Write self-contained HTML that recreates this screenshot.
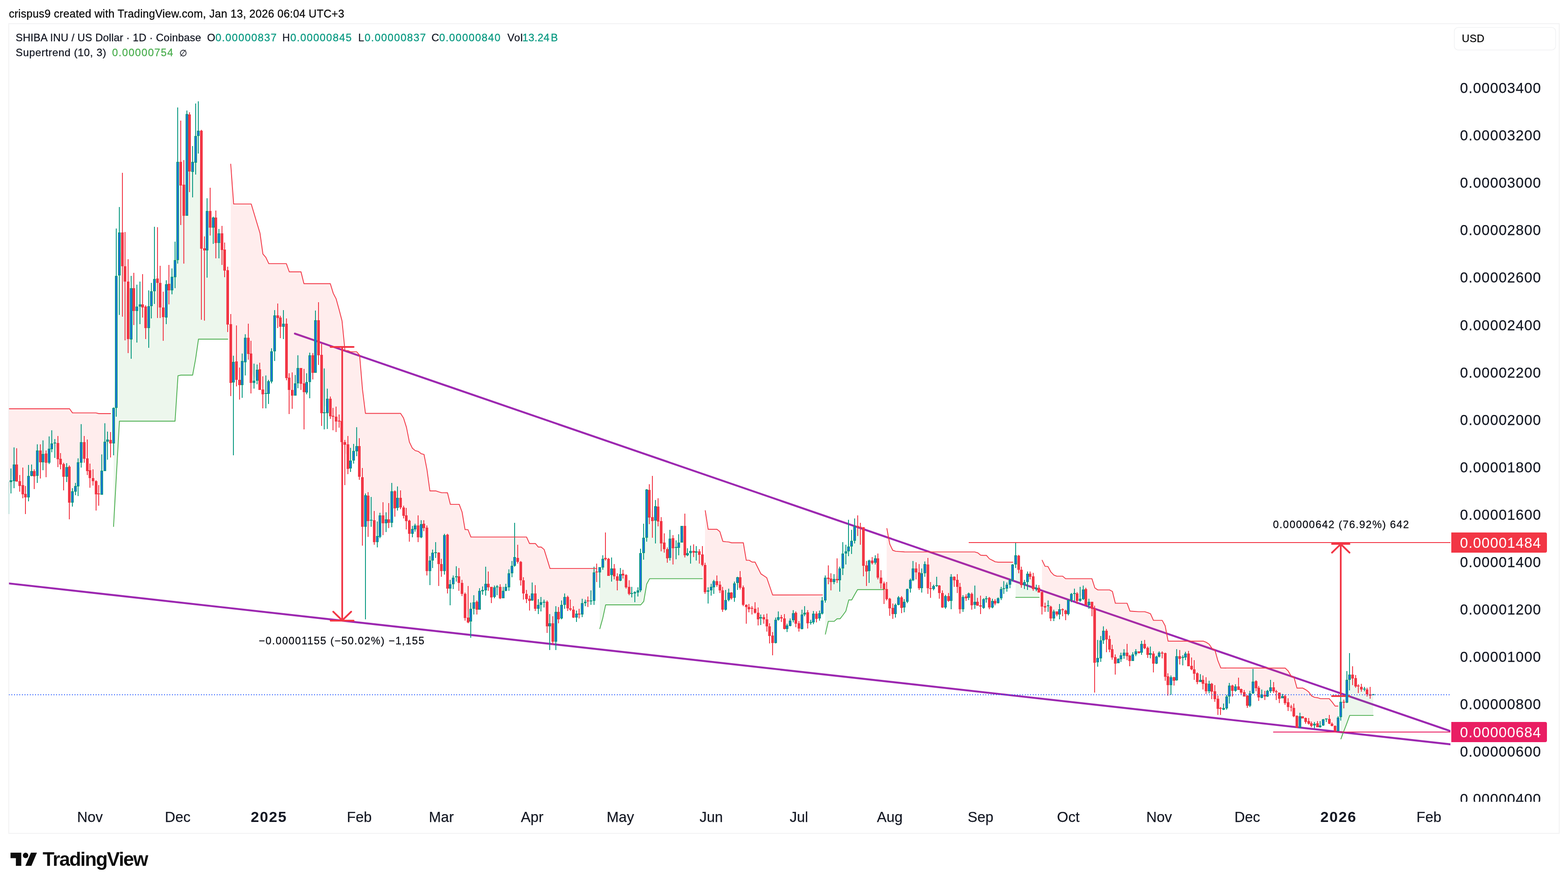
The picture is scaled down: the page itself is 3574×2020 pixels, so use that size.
<!DOCTYPE html>
<html lang="en"><head><meta charset="utf-8"><title>SHIBA INU / US Dollar - TradingView snapshot</title>
<style>
html,body{margin:0;padding:0;background:#fff;}
body{width:3574px;height:2020px;overflow:hidden;position:relative;font-family:"Liberation Sans",Arial,sans-serif;}
svg{position:absolute;left:0;top:0;display:block}
text{font-family:"Liberation Sans",Arial,sans-serif;white-space:pre}
</style></head><body>
<svg width="3574" height="2020" viewBox="0 0 3574 2020">
<defs><clipPath id="pane"><rect x="20.5" y="55" width="3285.5" height="1773"/></clipPath>
<clipPath id="axis"><rect x="3306" y="55" width="247" height="1773"/></clipPath></defs>
<rect x="0" y="0" width="3574" height="2020" fill="#fff"/>
<rect x="20" y="54" width="3534" height="1846" fill="#fff" stroke="#f2f2f3" stroke-width="2"/>

<g id="header"><text x="20.2" y="40" font-size="25" fill="#0a0a0a" stroke="#0a0a0a" stroke-width="0.35" letter-spacing="0.29">crispus9 created with TradingView.com, Jan 13, 2026 06:04 UTC+3</text></g>
<g id="chart-pane" clip-path="url(#pane)">
<g id="trend" stroke="#9c27b0" stroke-width="4.4" stroke-linecap="round" fill="none"><line x1="672.1" y1="760.6" x2="3330" y2="1675.1"/><line x1="0" y1="1327.9" x2="3330" y2="1699.7"/></g>
<g id="st-fill"><polygon fill="rgba(255,82,82,0.1)" points="12.0,931.6 18.0,931.6 25.0,931.6 32.0,931.6 38.0,931.6 45.0,931.6 52.0,931.6 58.0,931.6 65.0,931.6 72.0,931.6 78.0,931.6 85.0,931.6 92.0,931.6 98.0,931.6 105.0,931.6 112.0,931.6 118.0,931.6 125.0,931.6 132.0,931.6 138.0,931.6 145.0,931.6 152.0,931.6 158.0,931.6 165.0,941.0 172.0,941.0 178.0,941.0 185.0,941.0 192.0,941.0 199.0,941.0 205.0,941.0 212.0,941.0 219.0,941.0 225.0,942.6 232.0,942.6 239.0,942.6 245.0,942.6 252.0,942.6 252.0,1010.5 245.0,1010.3 239.0,1030.0 232.0,1091.2 225.0,1127.9 219.0,1120.7 212.0,1091.1 205.0,1082.7 199.0,1050.9 192.0,1025.7 185.0,1023.9 178.0,1084.7 172.0,1114.8 165.0,1133.4 158.0,1113.8 152.0,1076.7 145.0,1079.4 138.0,1051.9 132.0,1028.9 125.0,1016.3 118.0,1011.6 112.0,1032.7 105.0,1051.0 98.0,1041.4 92.0,1046.3 85.0,1056.6 78.0,1086.1 72.0,1076.2 65.0,1105.4 58.0,1134.9 52.0,1108.6 45.0,1102.3 38.0,1069.4 32.0,1072.3 25.0,1096.7 18.0,1135.3 12.0,931.6"/>
<polygon fill="rgba(76,175,80,0.1)" points="259.0,1200.0 265.0,1079.9 272.0,959.9 279.0,959.9 285.0,959.9 292.0,959.9 299.0,959.9 305.0,959.9 312.0,959.9 319.0,959.9 325.0,959.9 332.0,959.9 339.0,959.9 345.0,959.9 352.0,959.9 359.0,959.9 365.0,959.9 372.0,959.9 379.0,959.9 385.0,959.9 392.0,959.9 399.0,959.9 405.0,856.2 412.0,854.8 419.0,854.8 426.0,854.8 432.0,854.8 439.0,854.8 446.0,818.2 452.0,772.9 459.0,772.9 466.0,772.9 472.0,772.9 479.0,772.9 486.0,772.9 492.0,772.9 499.0,772.9 506.0,772.9 512.0,772.9 519.0,772.9 519.0,680.3 512.0,592.8 506.0,555.2 499.0,549.3 492.0,529.6 486.0,516.0 479.0,491.1 472.0,534.2 466.0,601.6 459.0,472.2 452.0,297.2 446.0,328.8 439.0,385.9 432.0,336.5 426.0,373.9 419.0,469.7 412.0,394.9 405.0,452.0 399.0,608.3 392.0,643.9 385.0,651.8 379.0,687.3 372.0,716.5 365.0,669.1 359.0,630.8 352.0,627.6 345.0,683.1 339.0,725.2 332.0,728.8 325.0,685.8 319.0,693.2 312.0,709.3 305.0,682.3 299.0,719.4 292.0,702.8 285.0,638.5 279.0,563.4 272.0,587.1 265.0,757.5 259.0,977.1"/>
<polygon fill="rgba(255,82,82,0.1)" points="526.0,373.7 532.0,464.7 539.0,464.7 546.0,464.7 552.0,464.7 559.0,464.7 566.0,464.7 572.0,464.7 579.0,486.8 586.0,509.0 592.0,531.2 599.0,578.7 606.0,586.4 612.0,600.7 619.0,600.7 626.0,600.7 633.0,600.7 639.0,600.7 646.0,600.7 653.0,600.7 659.0,619.3 666.0,619.3 673.0,619.3 679.0,619.3 686.0,619.3 693.0,646.3 699.0,646.3 706.0,646.3 713.0,646.3 719.0,646.3 726.0,646.3 733.0,646.3 739.0,646.3 746.0,646.3 753.0,646.3 759.0,668.2 766.0,681.0 773.0,705.3 779.0,731.0 786.0,798.7 793.0,799.0 799.0,801.7 806.0,801.7 813.0,801.7 819.0,809.5 826.0,888.0 833.0,942.1 839.0,942.1 846.0,942.1 853.0,942.1 860.0,942.1 866.0,942.1 873.0,942.1 880.0,942.1 886.0,942.1 893.0,942.1 900.0,942.1 906.0,942.1 913.0,942.1 920.0,952.6 926.0,974.0 933.0,1007.5 940.0,1021.3 946.0,1027.0 953.0,1028.7 960.0,1033.9 966.0,1035.8 973.0,1070.2 980.0,1118.8 986.0,1118.8 993.0,1118.8 1000.0,1121.0 1006.0,1123.0 1013.0,1123.0 1020.0,1123.1 1026.0,1149.5 1033.0,1149.5 1040.0,1149.5 1046.0,1149.5 1053.0,1167.1 1060.0,1206.9 1067.0,1207.2 1073.0,1224.0 1080.0,1224.0 1087.0,1224.0 1093.0,1224.0 1100.0,1224.0 1107.0,1224.0 1113.0,1224.0 1120.0,1224.0 1127.0,1224.0 1133.0,1224.0 1140.0,1224.0 1147.0,1224.0 1153.0,1224.0 1160.0,1224.0 1167.0,1224.0 1173.0,1224.0 1180.0,1224.0 1187.0,1224.0 1193.0,1224.0 1200.0,1224.0 1207.0,1238.8 1213.0,1238.8 1220.0,1238.8 1227.0,1246.8 1233.0,1246.8 1240.0,1252.5 1247.0,1274.0 1253.0,1295.7 1260.0,1295.7 1267.0,1295.7 1273.0,1295.7 1280.0,1295.7 1287.0,1295.7 1294.0,1295.7 1300.0,1295.7 1307.0,1295.7 1314.0,1295.7 1320.0,1295.7 1327.0,1295.7 1334.0,1295.7 1340.0,1295.7 1347.0,1295.7 1354.0,1295.7 1360.0,1295.7 1360.0,1305.1 1354.0,1336.7 1347.0,1366.1 1340.0,1371.1 1334.0,1373.9 1327.0,1387.1 1320.0,1399.6 1314.0,1404.3 1307.0,1397.3 1300.0,1384.3 1294.0,1374.8 1287.0,1370.2 1280.0,1392.7 1273.0,1402.8 1267.0,1430.4 1260.0,1439.7 1253.0,1433.1 1247.0,1402.7 1240.0,1374.4 1233.0,1376.7 1227.0,1383.0 1220.0,1367.0 1213.0,1355.1 1207.0,1371.2 1200.0,1359.8 1193.0,1339.7 1187.0,1304.6 1180.0,1270.2 1173.0,1261.2 1167.0,1298.3 1160.0,1323.0 1153.0,1341.1 1147.0,1353.3 1140.0,1349.8 1133.0,1341.8 1127.0,1349.8 1120.0,1353.1 1113.0,1329.9 1107.0,1331.9 1100.0,1346.3 1093.0,1367.1 1087.0,1382.9 1080.0,1380.0 1073.0,1408.3 1067.0,1396.1 1060.0,1382.4 1053.0,1341.3 1046.0,1321.5 1040.0,1311.8 1033.0,1326.1 1026.0,1344.3 1020.0,1282.5 1013.0,1262.2 1006.0,1294.1 1000.0,1285.3 993.0,1256.8 986.0,1271.7 980.0,1295.6 973.0,1253.7 966.0,1198.8 960.0,1208.2 953.0,1208.4 946.0,1202.7 940.0,1211.8 933.0,1205.7 926.0,1182.0 920.0,1166.9 913.0,1142.7 906.0,1141.6 900.0,1143.6 893.0,1153.7 886.0,1181.7 880.0,1189.5 873.0,1183.1 866.0,1198.7 860.0,1223.7 853.0,1207.1 846.0,1176.5 839.0,1165.9 833.0,1216.6 826.0,1150.0 819.0,1049.4 813.0,1014.9 806.0,1036.7 799.0,1053.7 793.0,1039.1 786.0,1032.5 779.0,984.0 773.0,959.9 766.0,955.6 759.0,952.2 753.0,929.3 746.0,928.6 739.0,925.0 733.0,876.3 726.0,765.2 719.0,784.7 713.0,832.6 706.0,848.0 699.0,879.1 693.0,897.1 686.0,860.3 679.0,851.9 673.0,883.4 666.0,892.9 659.0,886.2 653.0,798.2 646.0,740.7 639.0,739.9 633.0,720.9 626.0,762.7 619.0,834.8 612.0,888.4 606.0,895.0 599.0,893.9 592.0,861.6 586.0,854.7 579.0,864.1 572.0,838.4 566.0,783.6 559.0,803.4 552.0,853.4 546.0,873.3 539.0,828.3 532.0,886.6 526.0,807.7"/>
<polygon fill="rgba(76,175,80,0.1)" points="1367.0,1433.0 1374.0,1409.7 1380.0,1378.6 1387.0,1378.6 1394.0,1378.6 1400.0,1378.6 1407.0,1378.6 1414.0,1378.6 1420.0,1378.6 1427.0,1378.6 1434.0,1378.6 1440.0,1378.6 1447.0,1378.6 1454.0,1378.6 1460.0,1378.6 1467.0,1370.7 1474.0,1331.4 1480.0,1319.0 1487.0,1319.0 1494.0,1319.0 1500.0,1319.0 1507.0,1319.0 1514.0,1319.0 1521.0,1319.0 1527.0,1319.0 1534.0,1319.0 1541.0,1319.0 1547.0,1319.0 1554.0,1319.0 1561.0,1319.0 1567.0,1319.0 1574.0,1319.0 1581.0,1319.0 1587.0,1319.0 1594.0,1319.0 1601.0,1319.0 1601.0,1272.0 1594.0,1264.7 1587.0,1260.2 1581.0,1257.1 1574.0,1261.7 1567.0,1261.5 1561.0,1226.8 1554.0,1217.9 1547.0,1242.5 1541.0,1250.5 1534.0,1246.1 1527.0,1246.6 1521.0,1263.9 1514.0,1241.2 1507.0,1215.5 1500.0,1169.7 1494.0,1179.9 1487.0,1169.4 1480.0,1149.0 1474.0,1172.9 1467.0,1239.3 1460.0,1302.2 1454.0,1348.8 1447.0,1355.8 1440.0,1351.4 1434.0,1343.3 1427.0,1325.0 1420.0,1309.4 1414.0,1313.2 1407.0,1323.0 1400.0,1304.5 1394.0,1301.4 1387.0,1292.9 1380.0,1259.8 1374.0,1283.4 1367.0,1308.0"/>
<polygon fill="rgba(255,82,82,0.1)" points="1607.0,1163.8 1614.0,1206.4 1621.0,1206.4 1627.0,1206.4 1634.0,1206.4 1641.0,1211.9 1647.0,1233.8 1654.0,1234.7 1661.0,1235.2 1667.0,1237.1 1674.0,1237.1 1681.0,1237.1 1687.0,1237.1 1694.0,1237.1 1701.0,1277.0 1707.0,1277.0 1714.0,1281.1 1721.0,1281.1 1728.0,1294.6 1734.0,1308.0 1741.0,1312.4 1748.0,1316.8 1754.0,1336.3 1761.0,1356.1 1768.0,1356.1 1774.0,1356.1 1781.0,1356.1 1788.0,1356.1 1794.0,1356.1 1801.0,1356.1 1808.0,1356.1 1814.0,1356.0 1821.0,1356.0 1828.0,1356.0 1834.0,1356.0 1841.0,1356.0 1848.0,1356.0 1854.0,1356.0 1861.0,1356.0 1868.0,1356.0 1874.0,1356.0 1874.0,1382.4 1868.0,1403.9 1861.0,1405.9 1854.0,1408.5 1848.0,1418.5 1841.0,1410.0 1834.0,1396.2 1828.0,1415.1 1821.0,1427.6 1814.0,1410.7 1808.0,1405.6 1801.0,1419.9 1794.0,1430.8 1788.0,1419.8 1781.0,1409.0 1774.0,1407.3 1768.0,1438.7 1761.0,1462.4 1754.0,1441.1 1748.0,1419.6 1741.0,1410.6 1734.0,1410.8 1728.0,1405.1 1721.0,1389.2 1714.0,1388.9 1707.0,1386.5 1701.0,1390.7 1694.0,1358.7 1687.0,1325.4 1681.0,1326.3 1674.0,1347.8 1667.0,1357.7 1661.0,1358.0 1654.0,1373.7 1647.0,1367.1 1641.0,1339.3 1634.0,1327.3 1627.0,1335.2 1621.0,1343.3 1614.0,1352.3 1607.0,1318.8"/>
<polygon fill="rgba(76,175,80,0.1)" points="1881.0,1445.5 1888.0,1416.2 1894.0,1416.2 1901.0,1416.2 1908.0,1410.4 1914.0,1410.4 1921.0,1402.1 1928.0,1392.8 1934.0,1367.3 1941.0,1367.3 1948.0,1355.4 1955.0,1343.9 1961.0,1343.9 1968.0,1343.9 1975.0,1343.9 1981.0,1343.9 1988.0,1343.9 1995.0,1343.9 2001.0,1343.9 2008.0,1343.9 2015.0,1343.9 2015.0,1344.2 2008.0,1322.1 2001.0,1293.5 1995.0,1277.4 1988.0,1279.7 1981.0,1296.2 1975.0,1301.7 1968.0,1251.7 1961.0,1209.5 1955.0,1199.3 1948.0,1213.5 1941.0,1237.9 1934.0,1238.9 1928.0,1261.9 1921.0,1276.5 1914.0,1314.8 1908.0,1311.1 1901.0,1321.7 1894.0,1324.7 1888.0,1314.5 1881.0,1343.0"/>
<polygon fill="rgba(255,82,82,0.1)" points="2021.0,1204.6 2028.0,1240.3 2035.0,1254.1 2041.0,1256.5 2048.0,1257.0 2055.0,1257.5 2061.0,1257.9 2068.0,1257.9 2075.0,1257.9 2081.0,1257.9 2088.0,1257.9 2095.0,1257.9 2101.0,1257.9 2108.0,1257.9 2115.0,1257.9 2121.0,1257.9 2128.0,1257.9 2135.0,1257.9 2141.0,1257.9 2148.0,1257.9 2155.0,1257.9 2162.0,1257.9 2168.0,1257.9 2175.0,1258.0 2182.0,1258.0 2188.0,1258.0 2195.0,1258.0 2202.0,1258.0 2208.0,1258.0 2215.0,1258.0 2222.0,1258.0 2228.0,1259.9 2235.0,1265.4 2242.0,1265.9 2248.0,1265.9 2255.0,1273.6 2262.0,1276.9 2268.0,1280.5 2275.0,1281.3 2282.0,1281.3 2288.0,1281.3 2295.0,1281.3 2302.0,1281.3 2308.0,1281.3 2308.0,1305.0 2302.0,1329.1 2295.0,1337.8 2288.0,1340.5 2282.0,1353.4 2275.0,1369.3 2268.0,1373.0 2262.0,1376.5 2255.0,1374.5 2248.0,1365.7 2242.0,1375.8 2235.0,1380.4 2228.0,1374.3 2222.0,1368.5 2215.0,1368.5 2208.0,1358.7 2202.0,1362.2 2195.0,1375.5 2188.0,1363.7 2182.0,1330.2 2175.0,1322.6 2168.0,1345.9 2162.0,1363.3 2155.0,1371.9 2148.0,1367.4 2141.0,1346.4 2135.0,1330.9 2128.0,1339.6 2121.0,1343.3 2115.0,1313.5 2108.0,1297.1 2101.0,1323.9 2095.0,1319.1 2088.0,1301.1 2081.0,1305.8 2075.0,1333.6 2068.0,1357.8 2061.0,1379.8 2055.0,1376.2 2048.0,1369.9 2041.0,1390.9 2035.0,1393.4 2028.0,1379.7 2021.0,1351.2"/>
<polygon fill="rgba(76,175,80,0.1)" points="2315.0,1361.5 2322.0,1361.5 2328.0,1361.5 2335.0,1361.5 2342.0,1361.5 2348.0,1361.5 2355.0,1361.5 2362.0,1361.5 2368.0,1361.5 2368.0,1343.9 2362.0,1340.9 2355.0,1327.4 2348.0,1311.7 2342.0,1320.7 2335.0,1331.5 2328.0,1316.2 2322.0,1284.6 2315.0,1270.9"/>
<polygon fill="rgba(255,82,82,0.1)" points="2375.0,1276.9 2382.0,1290.7 2389.0,1291.2 2395.0,1303.8 2402.0,1310.7 2409.0,1313.2 2415.0,1313.2 2422.0,1313.2 2429.0,1319.0 2435.0,1319.0 2442.0,1319.0 2449.0,1319.0 2455.0,1319.0 2462.0,1319.0 2469.0,1319.0 2475.0,1319.0 2482.0,1319.0 2489.0,1319.0 2495.0,1340.1 2502.0,1344.5 2509.0,1344.5 2515.0,1344.5 2522.0,1344.5 2529.0,1344.5 2535.0,1348.1 2542.0,1375.0 2549.0,1375.0 2555.0,1375.0 2562.0,1375.0 2569.0,1375.0 2575.0,1392.9 2582.0,1393.4 2589.0,1393.8 2596.0,1394.2 2602.0,1394.2 2609.0,1394.2 2616.0,1396.2 2622.0,1398.9 2629.0,1414.0 2636.0,1414.0 2642.0,1414.0 2649.0,1414.0 2656.0,1426.4 2662.0,1461.3 2669.0,1461.3 2676.0,1461.3 2682.0,1461.3 2689.0,1461.3 2696.0,1461.3 2702.0,1461.3 2709.0,1461.3 2716.0,1461.3 2722.0,1461.3 2729.0,1461.3 2736.0,1461.3 2742.0,1461.3 2749.0,1464.0 2756.0,1468.4 2762.0,1478.0 2769.0,1481.9 2776.0,1506.0 2782.0,1522.5 2789.0,1522.5 2796.0,1522.5 2802.0,1522.6 2809.0,1522.6 2816.0,1522.6 2823.0,1522.6 2829.0,1522.6 2836.0,1522.6 2843.0,1522.6 2849.0,1522.6 2856.0,1522.6 2863.0,1522.7 2869.0,1522.7 2876.0,1522.7 2883.0,1522.7 2889.0,1522.7 2896.0,1522.7 2903.0,1522.7 2909.0,1522.7 2916.0,1522.7 2923.0,1522.7 2929.0,1522.8 2936.0,1529.3 2943.0,1540.9 2949.0,1544.2 2956.0,1568.4 2963.0,1568.4 2969.0,1568.4 2976.0,1572.2 2983.0,1577.2 2989.0,1586.2 2996.0,1589.5 3003.0,1590.3 3009.0,1592.5 3016.0,1592.5 3023.0,1592.5 3030.0,1592.5 3036.0,1600.2 3043.0,1609.3 3050.0,1609.3 3050.0,1650.9 3043.0,1661.5 3036.0,1652.2 3030.0,1642.5 3023.0,1640.6 3016.0,1647.1 3009.0,1653.8 3003.0,1652.3 2996.0,1652.8 2989.0,1651.6 2983.0,1645.7 2976.0,1642.1 2969.0,1635.7 2963.0,1644.2 2956.0,1645.5 2949.0,1621.7 2943.0,1613.3 2936.0,1606.5 2929.0,1595.2 2923.0,1588.3 2916.0,1588.4 2909.0,1580.7 2903.0,1569.6 2896.0,1568.2 2889.0,1581.6 2883.0,1585.7 2876.0,1584.3 2869.0,1580.0 2863.0,1562.1 2856.0,1560.4 2849.0,1594.0 2843.0,1598.4 2836.0,1581.6 2829.0,1576.0 2823.0,1564.0 2816.0,1569.2 2809.0,1571.8 2802.0,1578.0 2796.0,1601.2 2789.0,1613.7 2782.0,1618.0 2776.0,1606.3 2769.0,1583.0 2762.0,1571.6 2756.0,1566.8 2749.0,1564.8 2742.0,1555.3 2736.0,1549.1 2729.0,1545.8 2722.0,1529.3 2716.0,1517.8 2709.0,1502.8 2702.0,1494.8 2696.0,1501.9 2689.0,1498.8 2682.0,1519.8 2676.0,1550.3 2669.0,1557.3 2662.0,1556.5 2656.0,1517.9 2649.0,1490.5 2642.0,1492.3 2636.0,1504.8 2629.0,1505.3 2622.0,1489.1 2616.0,1485.8 2609.0,1471.4 2602.0,1477.5 2596.0,1487.0 2589.0,1488.3 2582.0,1498.0 2575.0,1503.5 2569.0,1489.2 2562.0,1491.3 2555.0,1498.6 2549.0,1506.9 2542.0,1510.5 2535.0,1488.1 2529.0,1468.4 2522.0,1454.2 2515.0,1448.7 2509.0,1479.9 2502.0,1497.3 2495.0,1464.6 2489.0,1384.2 2482.0,1376.3 2475.0,1360.7 2469.0,1353.2 2462.0,1361.4 2455.0,1362.5 2449.0,1354.7 2442.0,1361.7 2435.0,1384.5 2429.0,1398.7 2422.0,1393.1 2415.0,1394.7 2409.0,1398.3 2402.0,1402.7 2395.0,1397.5 2389.0,1381.7 2382.0,1384.1 2375.0,1370.3"/>
<polygon fill="rgba(76,175,80,0.1)" points="3056.0,1684.3 3063.0,1666.5 3070.0,1648.9 3076.0,1630.7 3083.0,1630.7 3090.0,1630.7 3096.0,1630.7 3103.0,1630.7 3110.0,1630.7 3116.0,1630.7 3123.0,1630.7 3130.0,1630.7 3130.0,1583.6 3123.0,1582.0 3116.0,1577.8 3110.0,1570.8 3103.0,1568.6 3096.0,1567.1 3090.0,1554.6 3083.0,1541.4 3076.0,1537.9 3070.0,1571.4 3063.0,1602.8 3056.0,1616.7"/></g>
<g id="measure" stroke="#f23645" stroke-width="3.9" stroke-linecap="round" stroke-linejoin="round" fill="none"><path d="M753.5 791H806M780 791V1414M753.5 1415H806M759.5 1394.5L780 1414.5L800.5 1394.5"/><path d="M3036 1240H3076M3056 1240V1587M3036 1587H3076M3036 1260L3056 1240.5L3076 1260"/></g>
<g id="candles" shape-rendering="crispEdges"><path fill="#089981" d="M17 1097h2V1174h-2zM24 1068h2V1125h-2zM31 1020h2V1113h-2zM64 1060h2V1143h-2zM71 1059h2V1086h-2zM84 1013h2V1101h-2zM97 1004h2V1072h-2zM111 995h2V1058h-2zM117 981h2V1031h-2zM124 1001h2V1044h-2zM151 1056h2V1099h-2zM164 1113h2V1155h-2zM171 1101h2V1129h-2zM177 1045h2V1131h-2zM184 967h2V1066h-2zM231 1036h2V1128h-2zM238 965h2V1074h-2zM244 984h2V1048h-2zM258 929h2V1038h-2zM264 521h2V950h-2zM271 472h2V718h-2zM298 629h2V818h-2zM311 649h2V781h-2zM318 642h2V739h-2zM338 662h2V793h-2zM344 645h2V726h-2zM351 517h2V693h-2zM378 639h2V739h-2zM391 612h2V671h-2zM398 551h2V657h-2zM404 245h2V601h-2zM425 252h2V492h-2zM438 333h2V450h-2zM445 236h2V398h-2zM451 231h2V350h-2zM471 452h2V633h-2zM485 494h2V556h-2zM498 522h2V589h-2zM531 811h2V1038h-2zM551 806h2V907h-2zM558 762h2V856h-2zM578 829h2V886h-2zM585 831h2V876h-2zM605 856h2V931h-2zM611 866h2V921h-2zM618 794h2V874h-2zM625 707h2V823h-2zM645 707h2V773h-2zM672 855h2V902h-2zM678 810h2V885h-2zM698 851h2V899h-2zM705 804h2V908h-2zM718 708h2V850h-2zM738 840h2V979h-2zM745 886h2V978h-2zM798 1021h2V1076h-2zM805 1012h2V1057h-2zM812 974h2V1040h-2zM832 1125h2V1412h-2zM845 1133h2V1201h-2zM859 1189h2V1248h-2zM865 1169h2V1227h-2zM879 1168h2V1213h-2zM892 1101h2V1202h-2zM905 1109h2V1164h-2zM939 1199h2V1225h-2zM945 1194h2V1212h-2zM959 1186h2V1227h-2zM979 1268h2V1334h-2zM985 1253h2V1295h-2zM992 1236h2V1272h-2zM1012 1217h2V1310h-2zM1025 1322h2V1380h-2zM1032 1312h2V1343h-2zM1039 1291h2V1326h-2zM1072 1374h2V1454h-2zM1079 1357h2V1401h-2zM1092 1341h2V1390h-2zM1099 1337h2V1356h-2zM1106 1292h2V1358h-2zM1126 1335h2V1364h-2zM1132 1334h2V1357h-2zM1146 1338h2V1364h-2zM1152 1331h2V1348h-2zM1159 1298h2V1347h-2zM1166 1279h2V1316h-2zM1172 1192h2V1292h-2zM1212 1328h2V1370h-2zM1226 1366h2V1400h-2zM1232 1361h2V1394h-2zM1239 1367h2V1385h-2zM1252 1400h2V1482h-2zM1266 1382h2V1482h-2zM1279 1369h2V1412h-2zM1286 1353h2V1388h-2zM1313 1392h2V1418h-2zM1326 1365h2V1407h-2zM1333 1367h2V1382h-2zM1346 1346h2V1379h-2zM1353 1292h2V1379h-2zM1366 1293h2V1340h-2zM1373 1266h2V1299h-2zM1393 1271h2V1326h-2zM1413 1295h2V1325h-2zM1439 1338h2V1362h-2zM1446 1348h2V1373h-2zM1453 1339h2V1360h-2zM1459 1251h2V1350h-2zM1466 1194h2V1276h-2zM1473 1115h2V1235h-2zM1493 1140h2V1239h-2zM1526 1208h2V1278h-2zM1540 1232h2V1275h-2zM1546 1218h2V1266h-2zM1553 1199h2V1237h-2zM1566 1250h2V1268h-2zM1573 1244h2V1285h-2zM1586 1245h2V1278h-2zM1613 1339h2V1376h-2zM1620 1331h2V1358h-2zM1626 1322h2V1354h-2zM1653 1345h2V1392h-2zM1660 1342h2V1371h-2zM1673 1326h2V1372h-2zM1680 1315h2V1345h-2zM1733 1401h2V1425h-2zM1767 1408h2V1467h-2zM1773 1394h2V1415h-2zM1793 1422h2V1441h-2zM1800 1410h2V1428h-2zM1807 1391h2V1419h-2zM1827 1390h2V1435h-2zM1833 1382h2V1405h-2zM1847 1413h2V1424h-2zM1853 1393h2V1423h-2zM1867 1392h2V1415h-2zM1873 1361h2V1401h-2zM1880 1312h2V1374h-2zM1900 1309h2V1332h-2zM1913 1292h2V1349h-2zM1920 1236h2V1311h-2zM1927 1242h2V1287h-2zM1933 1185h2V1268h-2zM1940 1208h2V1263h-2zM1947 1182h2V1239h-2zM1980 1276h2V1329h-2zM1994 1266h2V1287h-2zM2040 1376h2V1408h-2zM2047 1359h2V1380h-2zM2060 1366h2V1396h-2zM2067 1342h2V1375h-2zM2074 1319h2V1351h-2zM2080 1279h2V1325h-2zM2100 1296h2V1351h-2zM2107 1280h2V1315h-2zM2127 1333h2V1346h-2zM2134 1315h2V1338h-2zM2154 1356h2V1388h-2zM2167 1309h2V1389h-2zM2194 1357h2V1395h-2zM2207 1351h2V1368h-2zM2221 1335h2V1388h-2zM2241 1364h2V1388h-2zM2247 1359h2V1374h-2zM2261 1365h2V1387h-2zM2274 1362h2V1376h-2zM2281 1338h2V1368h-2zM2287 1325h2V1354h-2zM2294 1328h2V1349h-2zM2301 1320h2V1341h-2zM2307 1286h2V1326h-2zM2314 1236h2V1295h-2zM2334 1322h2V1343h-2zM2341 1303h2V1345h-2zM2361 1333h2V1348h-2zM2388 1369h2V1395h-2zM2401 1390h2V1416h-2zM2414 1377h2V1412h-2zM2434 1367h2V1403h-2zM2441 1352h2V1373h-2zM2448 1342h2V1370h-2zM2461 1338h2V1372h-2zM2468 1335h2V1368h-2zM2481 1365h2V1388h-2zM2501 1459h2V1520h-2zM2508 1450h2V1509h-2zM2514 1428h2V1468h-2zM2548 1501h2V1512h-2zM2554 1488h2V1509h-2zM2561 1480h2V1502h-2zM2581 1487h2V1507h-2zM2588 1480h2V1496h-2zM2601 1461h2V1493h-2zM2621 1474h2V1501h-2zM2635 1495h2V1514h-2zM2641 1485h2V1499h-2zM2668 1540h2V1584h-2zM2681 1480h2V1552h-2zM2695 1494h2V1517h-2zM2701 1486h2V1505h-2zM2735 1537h2V1555h-2zM2755 1552h2V1581h-2zM2788 1604h2V1619h-2zM2795 1584h2V1618h-2zM2801 1557h2V1604h-2zM2815 1560h2V1577h-2zM2848 1575h2V1612h-2zM2855 1525h2V1582h-2zM2875 1572h2V1592h-2zM2888 1573h2V1589h-2zM2895 1550h2V1580h-2zM2922 1582h2V1592h-2zM2962 1625h2V1660h-2zM2995 1646h2V1661h-2zM3008 1644h2V1659h-2zM3015 1639h2V1655h-2zM3022 1638h2V1646h-2zM3049 1633h2V1667h-2zM3055 1589h2V1643h-2zM3069 1530h2V1603h-2zM3075 1489h2V1574h-2zM3109 1566h2V1576h-2zM3129 1582h2V1585h-2z"/>
<path fill="#f23645" d="M37 1022h2V1098h-2zM44 1083h2V1121h-2zM51 1066h2V1136h-2zM57 1108h2V1172h-2zM77 1070h2V1115h-2zM91 1013h2V1091h-2zM104 1027h2V1088h-2zM131 994h2V1065h-2zM137 1033h2V1070h-2zM144 1055h2V1118h-2zM157 1061h2V1184h-2zM191 994h2V1055h-2zM198 1002h2V1083h-2zM204 1057h2V1112h-2zM211 1070h2V1107h-2zM218 1095h2V1164h-2zM224 1106h2V1153h-2zM251 985h2V1043h-2zM278 394h2V722h-2zM284 529h2V776h-2zM291 591h2V805h-2zM304 622h2V741h-2zM324 625h2V724h-2zM331 696h2V773h-2zM358 518h2V725h-2zM364 606h2V725h-2zM371 665h2V777h-2zM384 604h2V694h-2zM411 275h2V513h-2zM418 365h2V601h-2zM431 256h2V438h-2zM458 296h2V729h-2zM465 539h2V731h-2zM478 428h2V537h-2zM491 480h2V589h-2zM505 515h2V604h-2zM511 553h2V632h-2zM518 608h2V757h-2zM525 716h2V903h-2zM538 742h2V881h-2zM545 838h2V911h-2zM565 738h2V820h-2zM571 777h2V897h-2zM591 827h2V889h-2zM598 858h2V931h-2zM632 692h2V748h-2zM638 720h2V771h-2zM652 726h2V867h-2zM658 851h2V944h-2zM665 849h2V932h-2zM685 839h2V889h-2zM692 841h2V979h-2zM712 805h2V865h-2zM725 689h2V832h-2zM732 784h2V971h-2zM752 904h2V955h-2zM758 930h2V981h-2zM765 927h2V985h-2zM772 945h2V975h-2zM778 951h2V1017h-2zM785 1003h2V1106h-2zM792 994h2V1081h-2zM818 999h2V1094h-2zM825 1067h2V1244h-2zM838 1122h2V1224h-2zM852 1165h2V1242h-2zM872 1145h2V1220h-2zM885 1147h2V1204h-2zM899 1118h2V1178h-2zM912 1118h2V1161h-2zM919 1153h2V1182h-2zM925 1158h2V1207h-2zM932 1185h2V1235h-2zM952 1175h2V1236h-2zM965 1186h2V1211h-2zM972 1198h2V1312h-2zM999 1259h2V1336h-2zM1005 1274h2V1315h-2zM1019 1217h2V1353h-2zM1045 1295h2V1347h-2zM1052 1322h2V1359h-2zM1059 1351h2V1415h-2zM1066 1336h2V1421h-2zM1086 1369h2V1401h-2zM1112 1303h2V1347h-2zM1119 1338h2V1375h-2zM1139 1332h2V1366h-2zM1179 1242h2V1285h-2zM1186 1279h2V1335h-2zM1192 1316h2V1367h-2zM1199 1345h2V1375h-2zM1206 1358h2V1392h-2zM1219 1334h2V1393h-2zM1246 1369h2V1443h-2zM1259 1405h2V1470h-2zM1272 1384h2V1421h-2zM1293 1358h2V1393h-2zM1299 1367h2V1393h-2zM1306 1382h2V1409h-2zM1319 1388h2V1410h-2zM1339 1360h2V1384h-2zM1359 1285h2V1327h-2zM1379 1214h2V1278h-2zM1386 1272h2V1313h-2zM1399 1286h2V1321h-2zM1406 1307h2V1346h-2zM1419 1299h2V1319h-2zM1426 1309h2V1342h-2zM1433 1323h2V1357h-2zM1479 1104h2V1195h-2zM1486 1085h2V1226h-2zM1499 1136h2V1200h-2zM1506 1179h2V1257h-2zM1513 1216h2V1260h-2zM1520 1248h2V1283h-2zM1533 1220h2V1287h-2zM1560 1171h2V1271h-2zM1580 1241h2V1270h-2zM1593 1252h2V1285h-2zM1600 1245h2V1291h-2zM1606 1283h2V1354h-2zM1633 1312h2V1338h-2zM1640 1325h2V1352h-2zM1646 1338h2V1395h-2zM1666 1350h2V1367h-2zM1686 1302h2V1344h-2zM1693 1335h2V1382h-2zM1700 1378h2V1422h-2zM1706 1377h2V1396h-2zM1713 1382h2V1401h-2zM1720 1373h2V1399h-2zM1727 1385h2V1426h-2zM1740 1401h2V1422h-2zM1747 1399h2V1440h-2zM1753 1421h2V1467h-2zM1760 1441h2V1494h-2zM1780 1402h2V1418h-2zM1787 1400h2V1435h-2zM1813 1394h2V1430h-2zM1820 1416h2V1440h-2zM1840 1391h2V1433h-2zM1860 1394h2V1419h-2zM1887 1289h2V1332h-2zM1893 1307h2V1346h-2zM1907 1273h2V1329h-2zM1954 1175h2V1222h-2zM1960 1192h2V1242h-2zM1967 1202h2V1314h-2zM1974 1279h2V1336h-2zM1987 1270h2V1287h-2zM2000 1262h2V1321h-2zM2007 1300h2V1342h-2zM2014 1326h2V1377h-2zM2020 1327h2V1369h-2zM2027 1363h2V1404h-2zM2034 1376h2V1411h-2zM2054 1359h2V1398h-2zM2087 1282h2V1321h-2zM2094 1286h2V1345h-2zM2114 1272h2V1354h-2zM2120 1327h2V1363h-2zM2140 1334h2V1365h-2zM2147 1346h2V1386h-2zM2161 1352h2V1372h-2zM2174 1314h2V1338h-2zM2181 1309h2V1352h-2zM2187 1329h2V1399h-2zM2201 1355h2V1370h-2zM2214 1351h2V1390h-2zM2227 1363h2V1381h-2zM2234 1358h2V1400h-2zM2254 1361h2V1389h-2zM2267 1366h2V1380h-2zM2321 1265h2V1307h-2zM2327 1292h2V1340h-2zM2347 1303h2V1321h-2zM2354 1306h2V1347h-2zM2367 1334h2V1351h-2zM2374 1347h2V1401h-2zM2381 1374h2V1395h-2zM2394 1381h2V1416h-2zM2408 1394h2V1405h-2zM2421 1387h2V1405h-2zM2428 1390h2V1414h-2zM2454 1350h2V1377h-2zM2474 1340h2V1380h-2zM2488 1372h2V1405h-2zM2494 1381h2V1579h-2zM2521 1434h2V1487h-2zM2528 1449h2V1487h-2zM2534 1470h2V1504h-2zM2541 1492h2V1538h-2zM2568 1468h2V1505h-2zM2574 1493h2V1519h-2zM2595 1485h2V1490h-2zM2608 1459h2V1480h-2zM2615 1474h2V1500h-2zM2628 1485h2V1533h-2zM2648 1485h2V1501h-2zM2655 1488h2V1552h-2zM2661 1535h2V1586h-2zM2675 1543h2V1563h-2zM2688 1482h2V1515h-2zM2708 1484h2V1519h-2zM2715 1499h2V1528h-2zM2721 1505h2V1550h-2zM2728 1533h2V1560h-2zM2741 1540h2V1572h-2zM2748 1544h2V1582h-2zM2761 1557h2V1594h-2zM2768 1562h2V1600h-2zM2775 1586h2V1630h-2zM2781 1612h2V1630h-2zM2808 1561h2V1588h-2zM2822 1545h2V1573h-2zM2828 1570h2V1584h-2zM2835 1573h2V1588h-2zM2842 1585h2V1614h-2zM2862 1551h2V1576h-2zM2868 1564h2V1598h-2zM2882 1575h2V1596h-2zM2902 1555h2V1580h-2zM2908 1573h2V1596h-2zM2915 1579h2V1603h-2zM2928 1584h2V1607h-2zM2935 1592h2V1621h-2zM2942 1607h2V1622h-2zM2948 1604h2V1635h-2zM2955 1631h2V1660h-2zM2968 1633h2V1638h-2zM2975 1636h2V1650h-2zM2982 1637h2V1652h-2zM2988 1645h2V1658h-2zM3002 1644h2V1658h-2zM3029 1630h2V1651h-2zM3035 1647h2V1656h-2zM3042 1654h2V1670h-2zM3062 1595h2V1615h-2zM3082 1519h2V1562h-2zM3089 1539h2V1568h-2zM3095 1560h2V1580h-2zM3102 1559h2V1577h-2zM3115 1568h2V1588h-2zM3122 1566h2V1593h-2z"/>
<path fill="#089981" d="M15 1098h6V1172h-6zM22 1095h6V1099h-6zM29 1059h6V1097h-6zM62 1085h6V1134h-6zM69 1074h6V1085h-6zM82 1027h6V1085h-6zM95 1035h6V1054h-6zM109 1023h6V1055h-6zM115 1011h6V1024h-6zM122 1009h6V1011h-6zM149 1065h6V1087h-6zM162 1120h6V1146h-6zM169 1108h6V1121h-6zM175 1054h6V1109h-6zM182 1008h6V1055h-6zM229 1073h6V1128h-6zM236 1007h6V1074h-6zM242 1002h6V1007h-6zM256 930h6V1011h-6zM262 629h6V930h-6zM269 530h6V628h-6zM296 657h6V774h-6zM309 699h6V709h-6zM316 694h6V699h-6zM336 698h6V748h-6zM342 664h6V698h-6zM349 636h6V664h-6zM376 648h6V724h-6zM389 631h6V662h-6zM396 593h6V632h-6zM402 369h6V593h-6zM423 260h6V492h-6zM436 369h6V392h-6zM443 310h6V371h-6zM449 298h6V310h-6zM469 481h6V571h-6zM483 496h6V519h-6zM496 532h6V554h-6zM529 825h6V872h-6zM549 823h6V878h-6zM556 770h6V826h-6zM576 868h6V873h-6zM583 843h6V868h-6zM603 896h6V898h-6zM609 869h6V898h-6zM616 801h6V870h-6zM623 719h6V801h-6zM643 738h6V745h-6zM670 874h6V902h-6zM676 839h6V874h-6zM696 871h6V895h-6zM703 810h6V871h-6zM716 730h6V850h-6zM736 940h6V942h-6zM743 909h6V942h-6zM796 1050h6V1068h-6zM803 1028h6V1050h-6zM810 1017h6V1029h-6zM830 1129h6V1201h-6zM843 1185h6V1187h-6zM857 1222h6V1236h-6zM863 1175h6V1224h-6zM877 1184h6V1193h-6zM890 1120h6V1192h-6zM903 1135h6V1158h-6zM937 1206h6V1217h-6zM943 1198h6V1207h-6zM957 1195h6V1225h-6zM977 1278h6V1302h-6zM983 1260h6V1278h-6zM990 1259h6V1261h-6zM1010 1220h6V1302h-6zM1023 1332h6V1342h-6zM1030 1317h6V1332h-6zM1037 1314h6V1316h-6zM1070 1388h6V1417h-6zM1077 1373h6V1388h-6zM1090 1347h6V1390h-6zM1097 1345h6V1348h-6zM1104 1331h6V1346h-6zM1124 1339h6V1361h-6zM1130 1337h6V1339h-6zM1144 1347h6V1364h-6zM1150 1338h6V1347h-6zM1157 1307h6V1339h-6zM1164 1290h6V1307h-6zM1170 1270h6V1290h-6zM1210 1353h6V1369h-6zM1224 1379h6V1388h-6zM1230 1373h6V1379h-6zM1237 1372h6V1374h-6zM1250 1421h6V1428h-6zM1264 1395h6V1463h-6zM1277 1379h6V1410h-6zM1284 1361h6V1379h-6zM1311 1399h6V1408h-6zM1324 1375h6V1401h-6zM1331 1372h6V1375h-6zM1344 1369h6V1371h-6zM1351 1305h6V1370h-6zM1364 1293h6V1305h-6zM1371 1274h6V1294h-6zM1391 1296h6V1311h-6zM1411 1309h6V1324h-6zM1437 1352h6V1354h-6zM1444 1350h6V1353h-6zM1451 1346h6V1351h-6zM1457 1261h6V1346h-6zM1464 1226h6V1261h-6zM1471 1116h6V1226h-6zM1491 1154h6V1187h-6zM1524 1228h6V1272h-6zM1538 1247h6V1249h-6zM1544 1237h6V1249h-6zM1551 1199h6V1237h-6zM1564 1261h6V1266h-6zM1571 1256h6V1261h-6zM1584 1257h6V1260h-6zM1611 1346h6V1349h-6zM1618 1338h6V1346h-6zM1624 1325h6V1339h-6zM1651 1368h6V1390h-6zM1658 1351h6V1368h-6zM1671 1330h6V1363h-6zM1678 1316h6V1329h-6zM1731 1407h6V1410h-6zM1765 1413h6V1466h-6zM1771 1407h6V1413h-6zM1791 1426h6V1434h-6zM1798 1415h6V1427h-6zM1805 1398h6V1414h-6zM1825 1401h6V1434h-6zM1831 1397h6V1401h-6zM1845 1418h6V1420h-6zM1851 1399h6V1419h-6zM1865 1398h6V1410h-6zM1871 1369h6V1399h-6zM1878 1317h6V1369h-6zM1898 1320h6V1327h-6zM1911 1296h6V1323h-6zM1918 1262h6V1296h-6zM1925 1257h6V1262h-6zM1931 1246h6V1257h-6zM1938 1233h6V1246h-6zM1945 1200h6V1233h-6zM1978 1278h6V1302h-6zM1992 1273h6V1283h-6zM2038 1379h6V1400h-6zM2045 1362h6V1379h-6zM2058 1372h6V1385h-6zM2065 1343h6V1372h-6zM2072 1322h6V1342h-6zM2078 1296h6V1323h-6zM2098 1307h6V1341h-6zM2105 1286h6V1307h-6zM2125 1336h6V1343h-6zM2132 1334h6V1336h-6zM2152 1359h6V1385h-6zM2165 1315h6V1370h-6zM2192 1361h6V1389h-6zM2205 1353h6V1363h-6zM2219 1372h6V1379h-6zM2239 1366h6V1386h-6zM2245 1364h6V1366h-6zM2259 1370h6V1385h-6zM2272 1364h6V1375h-6zM2279 1343h6V1364h-6zM2285 1341h6V1343h-6zM2292 1333h6V1342h-6zM2299 1322h6V1333h-6zM2305 1287h6V1322h-6zM2312 1266h6V1287h-6zM2332 1327h6V1334h-6zM2339 1308h6V1327h-6zM2359 1340h6V1343h-6zM2386 1380h6V1382h-6zM2399 1394h6V1410h-6zM2412 1389h6V1401h-6zM2432 1368h6V1400h-6zM2439 1354h6V1368h-6zM2446 1352h6V1354h-6zM2459 1365h6V1370h-6zM2466 1344h6V1366h-6zM2479 1372h6V1380h-6zM2499 1500h6V1510h-6zM2506 1460h6V1501h-6zM2512 1438h6V1460h-6zM2546 1502h6V1512h-6zM2552 1494h6V1503h-6zM2559 1488h6V1495h-6zM2579 1492h6V1507h-6zM2586 1485h6V1492h-6zM2599 1468h6V1488h-6zM2619 1489h6V1493h-6zM2633 1497h6V1513h-6zM2639 1488h6V1497h-6zM2666 1544h6V1562h-6zM2679 1496h6V1551h-6zM2693 1498h6V1500h-6zM2699 1490h6V1499h-6zM2733 1550h6V1555h-6zM2753 1559h6V1576h-6zM2786 1614h6V1618h-6zM2793 1588h6V1615h-6zM2799 1563h6V1588h-6zM2813 1565h6V1575h-6zM2846 1581h6V1609h-6zM2853 1554h6V1581h-6zM2873 1583h6V1591h-6zM2886 1575h6V1588h-6zM2893 1567h6V1576h-6zM2920 1587h6V1592h-6zM2960 1633h6V1659h-6zM2993 1650h6V1654h-6zM3006 1654h6V1658h-6zM3013 1640h6V1654h-6zM3020 1638h6V1640h-6zM3047 1636h6V1667h-6zM3053 1600h6V1635h-6zM3067 1550h6V1602h-6zM3073 1538h6V1550h-6zM3107 1570h6V1572h-6zM3127 1583h6V1585h-6z"/>
<path fill="#2962ff" d="M17 1100h2V1170h-2zM31 1061h2V1095h-2zM64 1087h2V1132h-2zM71 1076h2V1083h-2zM84 1029h2V1083h-2zM97 1037h2V1052h-2zM111 1025h2V1053h-2zM117 1013h2V1022h-2zM151 1067h2V1085h-2zM164 1122h2V1144h-2zM171 1110h2V1119h-2zM177 1056h2V1107h-2zM184 1010h2V1053h-2zM231 1075h2V1126h-2zM238 1009h2V1072h-2zM244 1004h2V1005h-2zM258 932h2V1009h-2zM264 631h2V928h-2zM271 532h2V626h-2zM298 659h2V772h-2zM311 701h2V707h-2zM318 696h2V697h-2zM338 700h2V746h-2zM344 666h2V696h-2zM351 638h2V662h-2zM378 650h2V722h-2zM391 633h2V660h-2zM398 595h2V630h-2zM404 371h2V591h-2zM425 262h2V490h-2zM438 371h2V390h-2zM445 312h2V369h-2zM451 300h2V308h-2zM471 483h2V569h-2zM485 498h2V517h-2zM498 534h2V552h-2zM531 827h2V870h-2zM551 825h2V876h-2zM558 772h2V824h-2zM578 870h2V871h-2zM585 845h2V866h-2zM611 871h2V896h-2zM618 803h2V868h-2zM625 721h2V799h-2zM645 740h2V743h-2zM672 876h2V900h-2zM678 841h2V872h-2zM698 873h2V893h-2zM705 812h2V869h-2zM718 732h2V848h-2zM745 911h2V940h-2zM798 1052h2V1066h-2zM805 1030h2V1048h-2zM812 1019h2V1027h-2zM832 1131h2V1199h-2zM859 1224h2V1234h-2zM865 1177h2V1222h-2zM879 1186h2V1191h-2zM892 1122h2V1190h-2zM905 1137h2V1156h-2zM939 1208h2V1215h-2zM945 1200h2V1205h-2zM959 1197h2V1223h-2zM979 1280h2V1300h-2zM985 1262h2V1276h-2zM1012 1222h2V1300h-2zM1025 1334h2V1340h-2zM1032 1319h2V1330h-2zM1072 1390h2V1415h-2zM1079 1375h2V1386h-2zM1092 1349h2V1388h-2zM1106 1333h2V1344h-2zM1126 1341h2V1359h-2zM1146 1349h2V1362h-2zM1152 1340h2V1345h-2zM1159 1309h2V1337h-2zM1166 1292h2V1305h-2zM1172 1272h2V1288h-2zM1212 1355h2V1367h-2zM1226 1381h2V1386h-2zM1232 1375h2V1377h-2zM1252 1423h2V1426h-2zM1266 1397h2V1461h-2zM1279 1381h2V1408h-2zM1286 1363h2V1377h-2zM1313 1401h2V1406h-2zM1326 1377h2V1399h-2zM1353 1307h2V1368h-2zM1366 1295h2V1303h-2zM1373 1276h2V1292h-2zM1393 1298h2V1309h-2zM1413 1311h2V1322h-2zM1453 1348h2V1349h-2zM1459 1263h2V1344h-2zM1466 1228h2V1259h-2zM1473 1118h2V1224h-2zM1493 1156h2V1185h-2zM1526 1230h2V1270h-2zM1546 1239h2V1247h-2zM1553 1201h2V1235h-2zM1566 1263h2V1264h-2zM1573 1258h2V1259h-2zM1620 1340h2V1344h-2zM1626 1327h2V1337h-2zM1653 1370h2V1388h-2zM1660 1353h2V1366h-2zM1673 1332h2V1361h-2zM1680 1318h2V1327h-2zM1767 1415h2V1464h-2zM1773 1409h2V1411h-2zM1793 1428h2V1432h-2zM1800 1417h2V1425h-2zM1807 1400h2V1412h-2zM1827 1403h2V1432h-2zM1853 1401h2V1417h-2zM1867 1400h2V1408h-2zM1873 1371h2V1397h-2zM1880 1319h2V1367h-2zM1900 1322h2V1325h-2zM1913 1298h2V1321h-2zM1920 1264h2V1294h-2zM1927 1259h2V1260h-2zM1933 1248h2V1255h-2zM1940 1235h2V1244h-2zM1947 1202h2V1231h-2zM1980 1280h2V1300h-2zM1994 1275h2V1281h-2zM2040 1381h2V1398h-2zM2047 1364h2V1377h-2zM2060 1374h2V1383h-2zM2067 1345h2V1370h-2zM2074 1324h2V1340h-2zM2080 1298h2V1321h-2zM2100 1309h2V1339h-2zM2107 1288h2V1305h-2zM2127 1338h2V1341h-2zM2154 1361h2V1383h-2zM2167 1317h2V1368h-2zM2194 1363h2V1387h-2zM2207 1355h2V1361h-2zM2221 1374h2V1377h-2zM2241 1368h2V1384h-2zM2261 1372h2V1383h-2zM2274 1366h2V1373h-2zM2281 1345h2V1362h-2zM2294 1335h2V1340h-2zM2301 1324h2V1331h-2zM2307 1289h2V1320h-2zM2314 1268h2V1285h-2zM2334 1329h2V1332h-2zM2341 1310h2V1325h-2zM2401 1396h2V1408h-2zM2414 1391h2V1399h-2zM2434 1370h2V1398h-2zM2441 1356h2V1366h-2zM2461 1367h2V1368h-2zM2468 1346h2V1364h-2zM2481 1374h2V1378h-2zM2501 1502h2V1508h-2zM2508 1462h2V1499h-2zM2514 1440h2V1458h-2zM2548 1504h2V1510h-2zM2554 1496h2V1501h-2zM2561 1490h2V1493h-2zM2581 1494h2V1505h-2zM2588 1487h2V1490h-2zM2601 1470h2V1486h-2zM2635 1499h2V1511h-2zM2641 1490h2V1495h-2zM2668 1546h2V1560h-2zM2681 1498h2V1549h-2zM2701 1492h2V1497h-2zM2735 1552h2V1553h-2zM2755 1561h2V1574h-2zM2795 1590h2V1613h-2zM2801 1565h2V1586h-2zM2815 1567h2V1573h-2zM2848 1583h2V1607h-2zM2855 1556h2V1579h-2zM2875 1585h2V1589h-2zM2888 1577h2V1586h-2zM2895 1569h2V1574h-2zM2922 1589h2V1590h-2zM2962 1635h2V1657h-2zM3015 1642h2V1652h-2zM3049 1638h2V1665h-2zM3055 1602h2V1633h-2zM3069 1552h2V1600h-2zM3075 1540h2V1548h-2z"/>
<path fill="#f23645" d="M35 1059h6V1098h-6zM42 1097h6V1108h-6zM49 1106h6V1127h-6zM55 1126h6V1134h-6zM75 1074h6V1086h-6zM89 1027h6V1054h-6zM102 1034h6V1055h-6zM129 1010h6V1047h-6zM135 1046h6V1059h-6zM142 1058h6V1087h-6zM155 1064h6V1146h-6zM189 1008h6V1046h-6zM196 1045h6V1074h-6zM202 1072h6V1090h-6zM209 1090h6V1097h-6zM216 1097h6V1127h-6zM222 1125h6V1127h-6zM249 1003h6V1011h-6zM276 530h6V607h-6zM282 607h6V642h-6zM289 642h6V773h-6zM302 657h6V709h-6zM322 694h6V701h-6zM329 699h6V748h-6zM356 635h6V645h-6zM362 645h6V701h-6zM369 701h6V723h-6zM382 647h6V662h-6zM409 369h6V423h-6zM416 421h6V492h-6zM429 261h6V391h-6zM456 298h6V567h-6zM463 566h6V571h-6zM476 481h6V519h-6zM489 496h6V554h-6zM503 532h6V570h-6zM509 569h6V617h-6zM516 616h6V740h-6zM523 739h6V873h-6zM536 824h6V866h-6zM543 866h6V878h-6zM563 770h6V807h-6zM569 806h6V873h-6zM589 842h6V889h-6zM596 888h6V899h-6zM630 719h6V725h-6zM636 724h6V745h-6zM650 738h6V862h-6zM656 861h6V889h-6zM663 889h6V902h-6zM683 839h6V875h-6zM690 874h6V894h-6zM710 810h6V850h-6zM723 730h6V810h-6zM730 809h6V942h-6zM750 909h6V949h-6zM756 948h6V950h-6zM763 950h6V961h-6zM770 959h6V961h-6zM776 960h6V1008h-6zM783 1008h6V1014h-6zM790 1013h6V1069h-6zM816 1017h6V1087h-6zM823 1088h6V1201h-6zM836 1130h6V1188h-6zM850 1186h6V1236h-6zM870 1175h6V1193h-6zM883 1184h6V1192h-6zM897 1120h6V1159h-6zM910 1135h6V1157h-6zM917 1157h6V1176h-6zM923 1175h6V1188h-6zM930 1187h6V1217h-6zM950 1198h6V1225h-6zM963 1194h6V1204h-6zM970 1203h6V1302h-6zM997 1260h6V1286h-6zM1003 1286h6V1302h-6zM1017 1219h6V1342h-6zM1043 1314h6V1329h-6zM1050 1329h6V1354h-6zM1057 1354h6V1409h-6zM1064 1408h6V1419h-6zM1084 1372h6V1390h-6zM1110 1331h6V1339h-6zM1117 1338h6V1362h-6zM1137 1338h6V1364h-6zM1177 1272h6V1281h-6zM1184 1281h6V1323h-6zM1190 1323h6V1353h-6zM1197 1354h6V1366h-6zM1204 1365h6V1370h-6zM1217 1353h6V1388h-6zM1244 1372h6V1428h-6zM1257 1421h6V1463h-6zM1270 1395h6V1412h-6zM1291 1361h6V1387h-6zM1297 1387h6V1390h-6zM1304 1390h6V1408h-6zM1317 1399h6V1401h-6zM1337 1369h6V1371h-6zM1357 1303h6V1305h-6zM1377 1272h6V1275h-6zM1384 1274h6V1313h-6zM1397 1296h6V1314h-6zM1404 1314h6V1324h-6zM1417 1308h6V1312h-6zM1424 1311h6V1339h-6zM1431 1338h6V1354h-6zM1477 1117h6V1180h-6zM1484 1179h6V1188h-6zM1497 1155h6V1189h-6zM1504 1188h6V1239h-6zM1511 1237h6V1252h-6zM1518 1252h6V1273h-6zM1531 1227h6V1250h-6zM1558 1199h6V1266h-6zM1578 1256h6V1260h-6zM1591 1257h6V1265h-6zM1598 1264h6V1288h-6zM1604 1288h6V1350h-6zM1631 1325h6V1334h-6zM1638 1333h6V1346h-6zM1644 1346h6V1390h-6zM1664 1351h6V1364h-6zM1684 1316h6V1340h-6zM1691 1339h6V1379h-6zM1698 1379h6V1384h-6zM1704 1384h6V1389h-6zM1711 1386h6V1388h-6zM1718 1388h6V1397h-6zM1725 1397h6V1412h-6zM1738 1407h6V1412h-6zM1745 1412h6V1428h-6zM1751 1428h6V1450h-6zM1758 1449h6V1466h-6zM1778 1407h6V1410h-6zM1785 1410h6V1434h-6zM1811 1397h6V1422h-6zM1818 1421h6V1433h-6zM1838 1396h6V1421h-6zM1858 1399h6V1411h-6zM1885 1317h6V1320h-6zM1891 1319h6V1327h-6zM1905 1320h6V1323h-6zM1952 1199h6V1202h-6zM1958 1201h6V1203h-6zM1965 1202h6V1290h-6zM1972 1289h6V1303h-6zM1985 1278h6V1284h-6zM1998 1273h6V1317h-6zM2005 1317h6V1330h-6zM2012 1330h6V1344h-6zM2018 1343h6V1366h-6zM2025 1365h6V1387h-6zM2032 1386h6V1400h-6zM2052 1362h6V1386h-6zM2085 1296h6V1305h-6zM2092 1305h6V1341h-6zM2112 1287h6V1341h-6zM2118 1341h6V1343h-6zM2138 1335h6V1352h-6zM2145 1352h6V1385h-6zM2159 1359h6V1370h-6zM2172 1315h6V1323h-6zM2179 1322h6V1338h-6zM2185 1338h6V1389h-6zM2199 1360h6V1364h-6zM2212 1354h6V1380h-6zM2225 1372h6V1381h-6zM2232 1380h6V1383h-6zM2252 1363h6V1385h-6zM2265 1370h6V1376h-6zM2319 1267h6V1299h-6zM2325 1299h6V1334h-6zM2345 1308h6V1315h-6zM2352 1314h6V1343h-6zM2365 1340h6V1351h-6zM2372 1350h6V1383h-6zM2379 1382h6V1385h-6zM2392 1383h6V1410h-6zM2406 1394h6V1401h-6zM2419 1389h6V1391h-6zM2426 1392h6V1400h-6zM2452 1353h6V1370h-6zM2472 1343h6V1380h-6zM2486 1372h6V1388h-6zM2492 1388h6V1511h-6zM2519 1438h6V1458h-6zM2526 1457h6V1481h-6zM2532 1480h6V1499h-6zM2539 1498h6V1513h-6zM2566 1488h6V1496h-6zM2572 1495h6V1507h-6zM2593 1485h6V1489h-6zM2606 1468h6V1478h-6zM2613 1477h6V1493h-6zM2626 1490h6V1513h-6zM2646 1488h6V1490h-6zM2653 1489h6V1543h-6zM2659 1542h6V1562h-6zM2673 1544h6V1552h-6zM2686 1496h6V1502h-6zM2706 1490h6V1519h-6zM2713 1518h6V1526h-6zM2719 1526h6V1536h-6zM2726 1535h6V1555h-6zM2739 1550h6V1559h-6zM2746 1558h6V1576h-6zM2759 1559h6V1577h-6zM2766 1576h6V1594h-6zM2773 1593h6V1616h-6zM2779 1614h6V1616h-6zM2806 1563h6V1575h-6zM2820 1565h6V1573h-6zM2826 1571h6V1579h-6zM2833 1578h6V1588h-6zM2840 1586h6V1609h-6zM2860 1553h6V1569h-6zM2866 1568h6V1590h-6zM2880 1584h6V1588h-6zM2900 1567h6V1576h-6zM2906 1576h6V1578h-6zM2913 1579h6V1593h-6zM2926 1587h6V1603h-6zM2933 1601h6V1612h-6zM2940 1611h6V1613h-6zM2946 1614h6V1633h-6zM2953 1632h6V1659h-6zM2966 1633h6V1638h-6zM2973 1637h6V1646h-6zM2980 1644h6V1650h-6zM2986 1649h6V1655h-6zM3000 1649h6V1658h-6zM3027 1639h6V1650h-6zM3033 1650h6V1655h-6zM3040 1655h6V1667h-6zM3060 1600h6V1602h-6zM3080 1538h6V1547h-6zM3087 1546h6V1565h-6zM3093 1563h6V1565h-6zM3100 1566h6V1572h-6zM3113 1572h6V1583h-6zM3120 1583h6V1586h-6z"/></g>
<g id="st-lines"><polyline fill="none" stroke="#f23645" stroke-width="1.9" stroke-linejoin="round" stroke-linecap="round" points="11.8,932.0 158.6,932.0 165.3,941.4 218.7,941.4 225.4,943.0 252.1,943.0"/>
<polyline fill="none" stroke="#4caf50" stroke-width="1.9" stroke-linejoin="round" stroke-linecap="round" points="258.8,1200.4 272.2,960.3 399.0,960.3 405.7,856.6 412.4,855.2 439.1,855.2 445.8,818.6 452.4,773.3 519.2,773.3"/>
<polyline fill="none" stroke="#f23645" stroke-width="1.9" stroke-linejoin="round" stroke-linecap="round" points="525.9,374.1 532.6,465.1 572.6,465.1 592.6,531.6 599.3,579.1 606.0,586.8 612.7,601.1 652.7,601.1 659.4,619.7 686.1,619.7 692.8,646.7 752.9,646.7 759.6,668.6 766.2,681.4 772.9,705.7 779.6,731.4 786.3,799.1 793.0,799.4 799.6,802.1 813.0,802.1 819.7,809.9 826.3,888.4 833.0,942.5 913.1,942.5 919.8,953.0 926.5,974.4 933.2,1007.9 939.8,1021.7 946.5,1027.4 953.2,1029.1 959.9,1034.3 966.5,1036.2 973.2,1070.6 979.9,1119.2 993.3,1119.2 999.9,1121.4 1006.6,1123.4 1013.3,1123.4 1020.0,1123.5 1026.6,1149.9 1046.7,1149.9 1053.3,1167.5 1060.0,1207.3 1066.7,1207.6 1073.4,1224.4 1200.2,1224.4 1206.9,1239.2 1220.3,1239.2 1226.9,1247.2 1233.6,1247.2 1240.3,1252.9 1247.0,1274.4 1253.7,1296.1 1360.5,1296.1"/>
<polyline fill="none" stroke="#4caf50" stroke-width="1.9" stroke-linejoin="round" stroke-linecap="round" points="1367.2,1433.4 1373.8,1410.1 1380.5,1379.0 1460.6,1379.0 1467.3,1371.1 1474.0,1331.8 1480.7,1319.4 1600.9,1319.4"/>
<polyline fill="none" stroke="#f23645" stroke-width="1.9" stroke-linejoin="round" stroke-linecap="round" points="1607.5,1164.2 1614.2,1206.8 1634.2,1206.8 1640.9,1212.3 1647.6,1234.2 1654.3,1235.1 1660.9,1235.6 1667.6,1237.5 1694.3,1237.5 1701.0,1277.4 1707.7,1277.4 1714.4,1281.5 1721.0,1281.5 1727.7,1295.0 1734.4,1308.4 1741.1,1312.8 1747.7,1317.2 1754.4,1336.7 1761.1,1356.5 1874.6,1356.4"/>
<polyline fill="none" stroke="#4caf50" stroke-width="1.9" stroke-linejoin="round" stroke-linecap="round" points="1881.3,1445.9 1888.0,1416.6 1901.3,1416.6 1908.0,1410.8 1914.7,1410.8 1921.3,1402.5 1928.0,1393.2 1934.7,1367.7 1941.4,1367.7 1948.0,1355.8 1954.7,1344.3 2014.8,1344.3"/>
<polyline fill="none" stroke="#f23645" stroke-width="1.9" stroke-linejoin="round" stroke-linecap="round" points="2021.5,1205.0 2028.2,1240.7 2034.8,1254.5 2041.5,1256.9 2061.6,1258.3 2221.8,1258.4 2228.5,1260.3 2235.2,1265.8 2241.8,1266.3 2248.5,1266.3 2255.2,1274.0 2261.9,1277.3 2268.5,1280.9 2275.2,1281.7 2308.6,1281.7"/>
<polyline fill="none" stroke="#4caf50" stroke-width="1.9" stroke-linejoin="round" stroke-linecap="round" points="2315.3,1361.9 2368.7,1361.9"/>
<polyline fill="none" stroke="#f23645" stroke-width="1.9" stroke-linejoin="round" stroke-linecap="round" points="2375.4,1277.3 2382.0,1291.1 2388.7,1291.6 2395.4,1304.2 2402.1,1311.1 2408.8,1313.6 2422.1,1313.6 2428.8,1319.4 2488.9,1319.4 2495.6,1340.5 2502.2,1344.9 2528.9,1344.9 2535.6,1348.5 2542.3,1375.4 2569.0,1375.4 2575.7,1393.3 2582.4,1393.8 2595.7,1394.6 2609.1,1394.6 2615.7,1396.6 2622.4,1399.3 2629.1,1414.4 2649.1,1414.4 2655.8,1426.8 2662.5,1461.7 2742.6,1461.7 2749.3,1464.4 2756.0,1468.8 2762.6,1478.4 2769.3,1482.3 2776.0,1506.4 2782.7,1522.9 2929.5,1523.2 2936.2,1529.7 2942.9,1541.3 2949.6,1544.6 2956.3,1568.8 2969.6,1568.8 2976.3,1572.6 2983.0,1577.6 2989.6,1586.6 2996.3,1589.9 3003.0,1590.7 3009.7,1592.9 3029.7,1592.9 3036.4,1600.6 3043.1,1609.7 3049.7,1609.7"/>
<polyline fill="none" stroke="#4caf50" stroke-width="1.9" stroke-linejoin="round" stroke-linecap="round" points="3056.4,1684.7 3063.1,1666.9 3069.8,1649.3 3076.4,1631.1 3129.9,1631.1"/></g>
<line x1="20" y1="1584" x2="3306" y2="1584" stroke="#1f55ff" stroke-width="2" stroke-dasharray="2 4" shape-rendering="crispEdges"/>
<line x1="2208" y1="1237" x2="3306" y2="1237" stroke="#f23645" stroke-width="2"/>
<line x1="2902" y1="1669" x2="3306" y2="1669" stroke="#e91e63" stroke-width="2"/>
<g id="measure-text"><text x="589.7" y="1469" font-size="24" fill="#0c0e15" stroke="#0c0e15" stroke-width="0.35" letter-spacing="1.47">−0.00001155 (−50.02%) −1,155</text><text x="2901.4" y="1204" font-size="24" fill="#0c0e15" stroke="#0c0e15" stroke-width="0.35" letter-spacing="1.47">0.00000642 (76.92%) 642</text></g>
</g>
<g id="legend"><text x="35.8" y="94" font-size="24" fill="#131722" stroke="#131722" stroke-width="0.35" letter-spacing="0.175">SHIBA INU / US Dollar · 1D · Coinbase</text><text x="472" y="94" font-size="24" fill="#131722" stroke="#131722" stroke-width="0.35">O</text><text x="490.9" y="94" font-size="24" fill="#089981" stroke="#089981" stroke-width="0.35" letter-spacing="1.42">0.00000837</text><text x="643.5" y="94" font-size="24" fill="#131722" stroke="#131722" stroke-width="0.35">H</text><text x="661.7" y="94" font-size="24" fill="#089981" stroke="#089981" stroke-width="0.35" letter-spacing="1.42">0.00000845</text><text x="816.4" y="94" font-size="24" fill="#131722" stroke="#131722" stroke-width="0.35">L</text><text x="831.1" y="94" font-size="24" fill="#089981" stroke="#089981" stroke-width="0.35" letter-spacing="1.42">0.00000837</text><text x="983.5" y="94" font-size="24" fill="#131722" stroke="#131722" stroke-width="0.35">C</text><text x="1001" y="94" font-size="24" fill="#089981" stroke="#089981" stroke-width="0.35" letter-spacing="1.42">0.00000840</text><text x="1156.5" y="94" font-size="24" fill="#131722" stroke="#131722" stroke-width="0.35" letter-spacing="0.8">Vol</text><text x="1190.8" y="94" font-size="24" fill="#089981" stroke="#089981" stroke-width="0.35" letter-spacing="0.375">13.24 <tspan dx="-4.2">B</tspan></text><text x="35.8" y="128" font-size="24" fill="#131722" stroke="#131722" stroke-width="0.35" letter-spacing="0.67">Supertrend (10, 3)</text><text x="255.5" y="128" font-size="24" fill="#4caf50" stroke="#4caf50" stroke-width="0.35" letter-spacing="1.37">0.00000754</text><text x="408.5" y="128" font-size="20" fill="#131722" stroke="#131722" stroke-width="0.35">∅</text></g>
<g id="price-axis" clip-path="url(#axis)"><text x="3327.8" y="212.2" font-size="33" fill="#131722" stroke="#131722" stroke-width="0.25" letter-spacing="1.1">0.00003400</text><text x="3327.8" y="320.3" font-size="33" fill="#131722" stroke="#131722" stroke-width="0.25" letter-spacing="1.1">0.00003200</text><text x="3327.8" y="428.3" font-size="33" fill="#131722" stroke="#131722" stroke-width="0.25" letter-spacing="1.1">0.00003000</text><text x="3327.8" y="536.4" font-size="33" fill="#131722" stroke="#131722" stroke-width="0.25" letter-spacing="1.1">0.00002800</text><text x="3327.8" y="644.4" font-size="33" fill="#131722" stroke="#131722" stroke-width="0.25" letter-spacing="1.1">0.00002600</text><text x="3327.8" y="752.5" font-size="33" fill="#131722" stroke="#131722" stroke-width="0.25" letter-spacing="1.1">0.00002400</text><text x="3327.8" y="860.6" font-size="33" fill="#131722" stroke="#131722" stroke-width="0.25" letter-spacing="1.1">0.00002200</text><text x="3327.8" y="968.6" font-size="33" fill="#131722" stroke="#131722" stroke-width="0.25" letter-spacing="1.1">0.00002000</text><text x="3327.8" y="1076.7" font-size="33" fill="#131722" stroke="#131722" stroke-width="0.25" letter-spacing="1.1">0.00001800</text><text x="3327.8" y="1184.7" font-size="33" fill="#131722" stroke="#131722" stroke-width="0.25" letter-spacing="1.1">0.00001600</text><text x="3327.8" y="1292.8" font-size="33" fill="#131722" stroke="#131722" stroke-width="0.25" letter-spacing="1.1">0.00001400</text><text x="3327.8" y="1400.9" font-size="33" fill="#131722" stroke="#131722" stroke-width="0.25" letter-spacing="1.1">0.00001200</text><text x="3327.8" y="1508.9" font-size="33" fill="#131722" stroke="#131722" stroke-width="0.25" letter-spacing="1.1">0.00001000</text><text x="3327.8" y="1617.0" font-size="33" fill="#131722" stroke="#131722" stroke-width="0.25" letter-spacing="1.1">0.00000800</text><text x="3327.8" y="1725.0" font-size="33" fill="#131722" stroke="#131722" stroke-width="0.25" letter-spacing="1.1">0.00000600</text><text x="3327.8" y="1833.1" font-size="33" fill="#131722" stroke="#131722" stroke-width="0.25" letter-spacing="1.1">0.00000400</text></g>
<rect x="3314.75" y="62.5" width="231" height="51.5" rx="9" fill="#fff" stroke="#f0f1f3" stroke-width="1.5"/>
<text x="3332.0" y="96" font-size="24" fill="#0a0a0a" stroke="#0a0a0a" stroke-width="0.35" letter-spacing="0.35">USD</text>
<path d="M3308 1214h214a4 4 0 0 1 4 4v38a4 4 0 0 1 -4 4h-214z" fill="#f23645"/>
<text x="3327.8" y="1248.5" font-size="33" fill="#fff" letter-spacing="1.1">0.00001484</text>
<path d="M3308 1646h214a4 4 0 0 1 4 4v38a4 4 0 0 1 -4 4h-214z" fill="#e91e63"/>
<text x="3327.8" y="1680.5" font-size="33" fill="#fff" letter-spacing="1.1">0.00000684</text>
<g id="time-axis"><text x="205" y="1874.3" font-size="33" fill="#131722" stroke="#131722" stroke-width="0.25" text-anchor="middle">Nov</text><text x="405" y="1874.3" font-size="33" fill="#131722" stroke="#131722" stroke-width="0.25" text-anchor="middle">Dec</text><text x="613" y="1874.3" font-size="34" fill="#131722" font-weight="700" letter-spacing="1.9" text-anchor="middle">2025</text><text x="819" y="1874.3" font-size="33" fill="#131722" stroke="#131722" stroke-width="0.25" text-anchor="middle">Feb</text><text x="1006" y="1874.3" font-size="33" fill="#131722" stroke="#131722" stroke-width="0.25" text-anchor="middle">Mar</text><text x="1213" y="1874.3" font-size="33" fill="#131722" stroke="#131722" stroke-width="0.25" text-anchor="middle">Apr</text><text x="1414" y="1874.3" font-size="33" fill="#131722" stroke="#131722" stroke-width="0.25" text-anchor="middle">May</text><text x="1621" y="1874.3" font-size="33" fill="#131722" stroke="#131722" stroke-width="0.25" text-anchor="middle">Jun</text><text x="1821" y="1874.3" font-size="33" fill="#131722" stroke="#131722" stroke-width="0.25" text-anchor="middle">Jul</text><text x="2028" y="1874.3" font-size="33" fill="#131722" stroke="#131722" stroke-width="0.25" text-anchor="middle">Aug</text><text x="2235" y="1874.3" font-size="33" fill="#131722" stroke="#131722" stroke-width="0.25" text-anchor="middle">Sep</text><text x="2435" y="1874.3" font-size="33" fill="#131722" stroke="#131722" stroke-width="0.25" text-anchor="middle">Oct</text><text x="2642" y="1874.3" font-size="33" fill="#131722" stroke="#131722" stroke-width="0.25" text-anchor="middle">Nov</text><text x="2843" y="1874.3" font-size="33" fill="#131722" stroke="#131722" stroke-width="0.25" text-anchor="middle">Dec</text><text x="3051" y="1874.3" font-size="34" fill="#131722" font-weight="700" letter-spacing="1.9" text-anchor="middle">2026</text><text x="3257" y="1874.3" font-size="33" fill="#131722" stroke="#131722" stroke-width="0.25" text-anchor="middle">Feb</text></g>
<g id="logo" fill="#0d0d0d"><path d="M24 1944h24.5v30h-12.3v-17.6h-12.2z"/><circle cx="58.3" cy="1950.3" r="6.2"/><path d="M70.5 1944h13.7l-12.6 30h-13.8z"/><text x="97.2" y="1974" font-size="44" fill="#0d0d0d" font-weight="700" letter-spacing="-1.75">TradingView</text></g>
</svg></body></html>
